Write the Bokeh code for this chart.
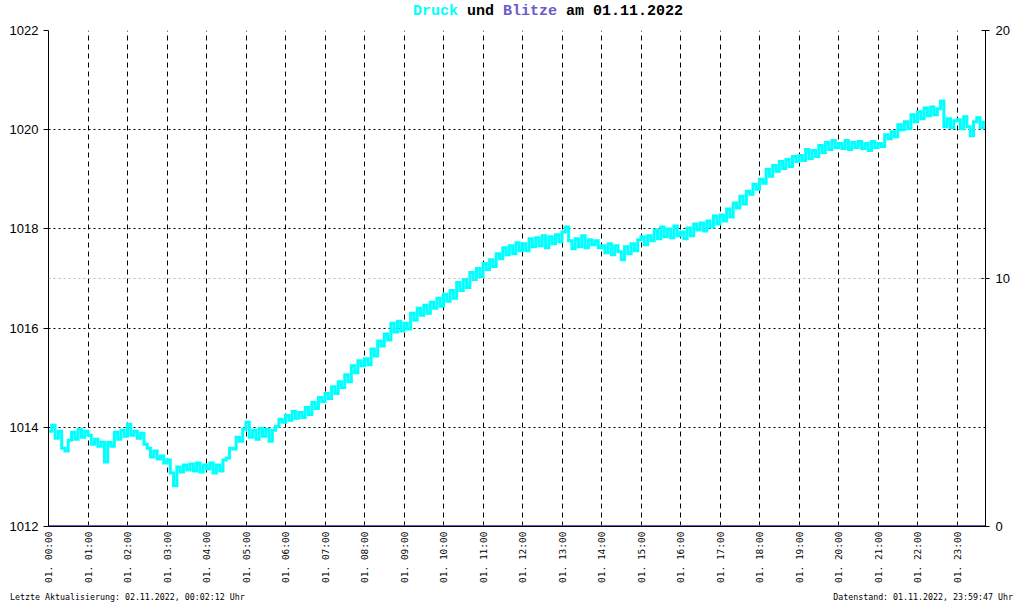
import math
from bokeh.plotting import figure
from bokeh.layouts import column
from bokeh.models import Range1d, LinearAxis, FixedTicker, Span, Div
from bokeh.embed import file_html
from bokeh.resources import INLINE

# ---------------- data ----------------
hour_ticks = [0, 1, 2, 3, 4, 5, 6, 7, 8, 9, 10, 11, 12, 13, 14, 15, 16, 17, 18, 19, 20, 21, 22, 23]
hour_labels = ["01. 00:00", "01. 01:00", "01. 02:00", "01. 03:00", "01. 04:00", "01. 05:00",
               "01. 06:00", "01. 07:00", "01. 08:00", "01. 09:00", "01. 10:00", "01. 11:00",
               "01. 12:00", "01. 13:00", "01. 14:00", "01. 15:00", "01. 16:00", "01. 17:00",
               "01. 18:00", "01. 19:00", "01. 20:00", "01. 21:00", "01. 22:00", "01. 23:00"]
pressure_ticks = [1012, 1014, 1016, 1018, 1020, 1022]
blitze_ticks = [0, 10, 20]

# pressure (hPa), 5-minute readings, one row per hour
pressure_rows = [
    [1013.92, 1014.04, 1013.78, 1013.92, 1013.58, 1013.52, 1013.74, 1013.90, 1013.76, 1013.96, 1013.80, 1013.92],
    [1013.84, 1013.66, 1013.76, 1013.62, 1013.70, 1013.30, 1013.70, 1013.62, 1013.90, 1013.76, 1013.94, 1013.82],
    [1014.06, 1013.84, 1013.92, 1013.78, 1013.88, 1013.66, 1013.58, 1013.40, 1013.52, 1013.36, 1013.42, 1013.28],
    [1013.34, 1013.08, 1012.82, 1013.20, 1013.10, 1013.24, 1013.14, 1013.26, 1013.12, 1013.28, 1013.10, 1013.24],
    [1013.16, 1013.28, 1013.08, 1013.24, 1013.12, 1013.34, 1013.38, 1013.58, 1013.56, 1013.80, 1013.72, 1013.96],
    [1014.10, 1013.80, 1013.94, 1013.76, 1013.98, 1013.82, 1013.96, 1013.72, 1013.94, 1014.02, 1014.16, 1014.10],
    [1014.24, 1014.14, 1014.32, 1014.18, 1014.30, 1014.20, 1014.40, 1014.26, 1014.50, 1014.38, 1014.60, 1014.52],
    [1014.68, 1014.58, 1014.82, 1014.68, 1014.92, 1014.80, 1015.06, 1014.92, 1015.24, 1015.10, 1015.34, 1015.24],
    [1015.38, 1015.26, 1015.58, 1015.44, 1015.74, 1015.64, 1015.88, 1015.76, 1016.10, 1015.92, 1016.14, 1015.94],
    [1016.10, 1015.98, 1016.30, 1016.16, 1016.40, 1016.26, 1016.46, 1016.30, 1016.52, 1016.40, 1016.60, 1016.44],
    [1016.68, 1016.54, 1016.76, 1016.60, 1016.92, 1016.76, 1016.98, 1016.82, 1017.12, 1016.98, 1017.20, 1017.04],
    [1017.30, 1017.18, 1017.38, 1017.24, 1017.50, 1017.40, 1017.62, 1017.48, 1017.66, 1017.50, 1017.72, 1017.56],
    [1017.70, 1017.56, 1017.80, 1017.64, 1017.82, 1017.66, 1017.86, 1017.62, 1017.84, 1017.70, 1017.88, 1017.74],
    [1017.94, 1018.04, 1017.76, 1017.60, 1017.80, 1017.64, 1017.86, 1017.62, 1017.78, 1017.68, 1017.76, 1017.62],
    [1017.66, 1017.52, 1017.70, 1017.48, 1017.66, 1017.54, 1017.38, 1017.64, 1017.50, 1017.70, 1017.56, 1017.78],
    [1017.84, 1017.68, 1017.86, 1017.76, 1017.98, 1017.80, 1018.04, 1017.84, 1018.00, 1017.82, 1018.06, 1017.86],
    [1017.94, 1017.80, 1018.02, 1017.86, 1018.10, 1017.98, 1018.12, 1017.96, 1018.16, 1018.04, 1018.26, 1018.10],
    [1018.28, 1018.16, 1018.40, 1018.24, 1018.52, 1018.42, 1018.66, 1018.50, 1018.76, 1018.70, 1018.90, 1018.80],
    [1019.00, 1018.92, 1019.20, 1019.06, 1019.28, 1019.16, 1019.36, 1019.22, 1019.40, 1019.26, 1019.46, 1019.36],
    [1019.48, 1019.38, 1019.60, 1019.42, 1019.58, 1019.46, 1019.68, 1019.54, 1019.74, 1019.60, 1019.78, 1019.64],
    [1019.72, 1019.62, 1019.78, 1019.60, 1019.74, 1019.64, 1019.76, 1019.62, 1019.72, 1019.58, 1019.76, 1019.64],
    [1019.72, 1019.66, 1019.90, 1019.82, 1019.96, 1019.86, 1020.10, 1020.00, 1020.16, 1020.02, 1020.30, 1020.16],
    [1020.36, 1020.22, 1020.44, 1020.28, 1020.46, 1020.30, 1020.42, 1020.58, 1020.06, 1020.22, 1020.04, 1020.18],
    [1020.20, 1020.02, 1020.26, 1020.06, 1019.88, 1020.16, 1020.24, 1020.04, 1020.18],
]
# lightning strikes per hour
blitze_hours = [0, 1, 2, 3, 4, 5, 6, 7, 8, 9, 10, 11, 12, 13, 14, 15, 16, 17, 18, 19, 20, 21, 22, 23, 23.72]
blitze_counts = [0, 0, 0, 0, 0, 0, 0, 0, 0, 0, 0, 0, 0, 0, 0, 0, 0, 0, 0, 0, 0, 0, 0, 0, 0]

pressure = [v for row in pressure_rows for v in row]
times = [i * 5 / 60 for i in range(len(pressure))]

title_parts = ["Druck", "und", "Blitze", "am 01.11.2022"]
footer_left = "Letzte Aktualisierung: 02.11.2022, 00:02:12 Uhr"
footer_right = "Datenstand: 01.11.2022, 23:59:47 Uhr"

# ---------------- layout ----------------
W = 1016
TITLE_H, MAIN_H, FOOT_H = 22, 568, 14
FL, FR, FT, FB = 48, 985, 8, 504   # main frame edges in main-figure pixels
X0, X1 = 0.0, 23.72
Y0, Y1 = 1012.0, 1022.0

CYAN = "#00ffff"
BLUE = "#6a5acd"

# ---- title ----
title_html = (
    f'<div style="position:relative;width:{W}px;height:{TITLE_H}px;overflow:hidden;background:white;">'
    f'<span style="position:absolute;left:413px;top:3px;white-space:pre;'
    f'font-family:\'Liberation Mono\';font-weight:bold;font-size:15px;line-height:17px;color:black;">'
    f'<span style="color:{CYAN}">{title_parts[0]}</span> {title_parts[1]} '
    f'<span style="color:{BLUE}">{title_parts[2]}</span> {title_parts[3]}</span></div>'
)
title_div = Div(text=title_html, width=W, height=TITLE_H, margin=0)

# ---- main chart ----
p = figure(width=W, height=MAIN_H, output_backend="svg", toolbar_location=None,
           x_range=Range1d(X0, X1), y_range=Range1d(Y0, Y1),
           min_border_left=FL, min_border_right=W - FR,
           min_border_top=FT, min_border_bottom=MAIN_H - FB)
p.outline_line_color = None
p.background_fill_color = "white"
p.border_fill_color = "white"
p.extra_y_ranges = {"blitze": Range1d(0, 20)}

p.xaxis.ticker = FixedTicker(ticks=hour_ticks)
p.xaxis.major_label_overrides = {tk: lb for tk, lb in zip(hour_ticks, hour_labels)}
p.xaxis.major_label_orientation = math.pi / 2
p.xaxis.major_label_text_font = "DejaVu Sans Mono"
p.xaxis.major_label_text_font_size = "9.5px"
p.xaxis.major_label_text_color = "black"
p.xaxis.major_label_standoff = 5
p.xaxis.major_tick_out = 0
p.xaxis.major_tick_in = 0
p.xaxis.minor_tick_out = 0
p.xaxis.minor_tick_in = 0
p.xaxis.axis_line_color = "black"
p.xaxis.axis_line_width = 1

p.yaxis.ticker = FixedTicker(ticks=pressure_ticks)
p.yaxis.major_label_text_font = "Liberation Sans"
p.yaxis.major_label_text_font_size = "13px"
p.yaxis.major_label_text_color = "black"
p.yaxis.major_tick_out = 5
p.yaxis.major_tick_in = 0
p.yaxis.minor_tick_out = 0
p.yaxis.minor_tick_in = 0
p.yaxis.major_label_standoff = 5
p.yaxis.axis_line_color = "black"
p.yaxis.formatter.use_scientific = False

raxis = LinearAxis(y_range_name="blitze", ticker=FixedTicker(ticks=blitze_ticks))
raxis.major_label_text_font = "Liberation Sans"
raxis.major_label_text_font_size = "13px"
raxis.major_label_text_color = "black"
raxis.major_tick_out = 4
raxis.major_tick_in = 4
raxis.minor_tick_out = 0
raxis.minor_tick_in = 0
raxis.major_label_standoff = 6
raxis.axis_line_color = "black"
p.add_layout(raxis, "right")

p.xgrid.ticker = FixedTicker(ticks=hour_ticks[1:])
p.xgrid.grid_line_color = "black"
p.xgrid.grid_line_dash = "5 4"
p.xgrid.grid_line_width = 1
p.ygrid.ticker = FixedTicker(ticks=pressure_ticks[1:])
p.ygrid.grid_line_color = "black"
p.ygrid.grid_line_dash = "2 3"
p.ygrid.grid_line_width = 1
p.add_layout(Span(location=blitze_ticks[1], dimension="width", y_range_name="blitze",
                  line_color="#bbbbbb", line_dash="2 3", line_width=1))

p.step(times, pressure, mode="after", line_color=CYAN, line_width=3,
       line_join="miter", line_cap="butt")
p.line(blitze_hours, blitze_counts, y_range_name="blitze", line_color=BLUE, line_width=3)

# ---- footer ----
foot_style = "position:absolute;top:2px;white-space:pre;font-family:'DejaVu Sans Mono';font-size:8.3px;line-height:10px;color:black;"
footer_html = (
    f'<div style="position:relative;width:{W}px;height:{FOOT_H}px;overflow:hidden;background:white;">'
    f'<span style="{foot_style}left:10px;">{footer_left}</span>'
    f'<span style="{foot_style}right:3px;">{footer_right}</span></div>'
)
footer_div = Div(text=footer_html, width=W, height=FOOT_H, margin=0)

layout = column(title_div, p, footer_div, spacing=0)
open("out.html", "w").write(file_html(layout, INLINE))
